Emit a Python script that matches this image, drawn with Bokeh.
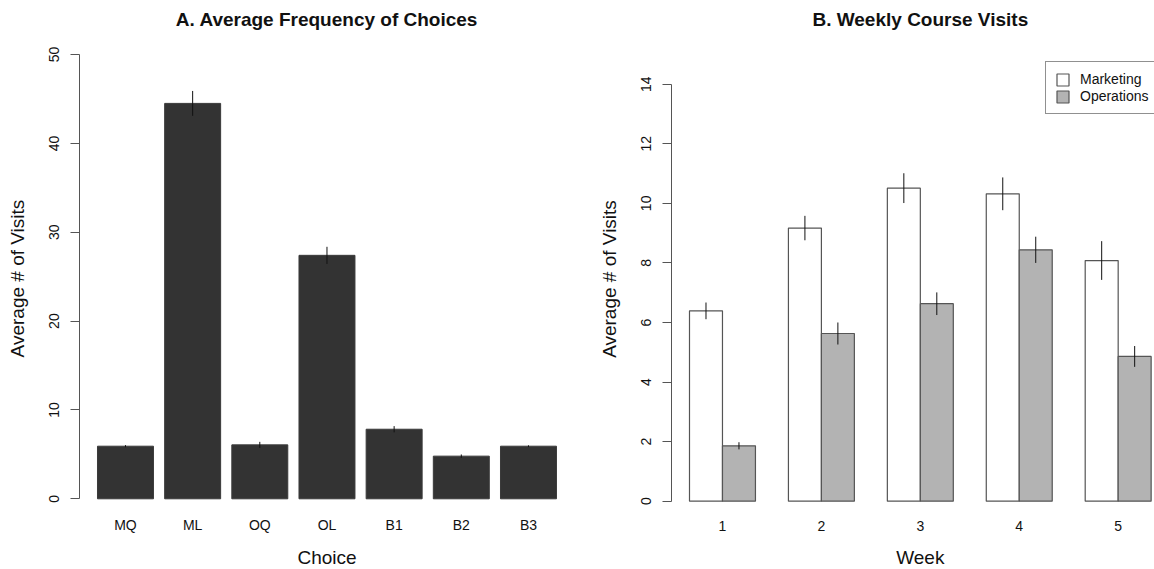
import numpy as np
from bokeh.plotting import figure
from bokeh.models import (Range1d, FixedTicker, Label, Legend, LegendItem,
                          ColumnDataSource)
from bokeh.layouts import row
from bokeh.embed import file_html
from bokeh.resources import INLINE

# ---------------- data ----------------
choices = ["MQ", "ML", "OQ", "OL", "B1", "B2", "B3"]
choice_means = [5.92, 44.5, 6.07, 27.4, 7.83, 4.8, 5.92]
choice_errs = [0.12, 1.4, 0.34, 0.96, 0.35, 0.19, 0.1]

weeks = ["1", "2", "3", "4", "5"]
marketing_means = [6.39, 9.17, 10.51, 10.32, 8.08]
marketing_errs = [0.28, 0.41, 0.5, 0.55, 0.65]
operations_means = [1.86, 5.63, 6.63, 8.44, 4.86]
operations_errs = [0.12, 0.37, 0.38, 0.44, 0.35]

yticks_a = [0, 10, 20, 30, 40, 50]
yticks_b = [0, 2, 4, 6, 8, 10, 12, 14]

FONT = "Liberation Sans"
AXIS_COL = "#555555"
TEXT_COL = "#111111"


def style_y(p, ticks, loc):
    ax = p.yaxis[0]
    ax.fixed_location = loc
    ax.ticker = FixedTicker(ticks=ticks)
    ax.bounds = (ticks[0], ticks[-1])
    ax.axis_line_color = AXIS_COL
    ax.major_tick_line_color = AXIS_COL
    ax.minor_tick_line_color = None
    ax.major_tick_out = 9
    ax.major_tick_in = 0
    ax.major_label_orientation = "vertical"
    ax.major_label_standoff = 11
    ax.major_label_text_font = FONT
    ax.major_label_text_font_size = "14px"
    ax.major_label_text_color = TEXT_COL


def style_x(p, ticks, labels, loc, standoff):
    ax = p.xaxis[0]
    ax.fixed_location = loc
    ax.ticker = FixedTicker(ticks=ticks)
    ax.major_label_overrides = {t: l for t, l in zip(ticks, labels)}
    ax.axis_line_color = None
    ax.major_tick_line_color = None
    ax.minor_tick_line_color = None
    ax.major_tick_out = 0
    ax.major_tick_in = 0
    ax.major_label_standoff = standoff
    ax.major_label_text_font = FONT
    ax.major_label_text_font_size = "14px"
    ax.major_label_text_color = TEXT_COL


def base_fig(x_range, y_range):
    p = figure(width=577, height=569, x_range=x_range, y_range=y_range,
               output_backend="svg", toolbar_location=None, min_border=0,
               min_border_left=0, min_border_right=0,
               min_border_top=0, min_border_bottom=0)
    p.outline_line_color = None
    p.xgrid.grid_line_color = None
    p.ygrid.grid_line_color = None
    p.background_fill_color = "white"
    p.border_fill_color = "white"
    return p


def text_label(p, x, y, text, size, bold=False, angle=0.0,
               baseline="alphabetic"):
    p.add_layout(Label(x=x, y=y, text=text, angle=angle, angle_units="rad",
                       text_align="center", text_baseline=baseline,
                       text_font=FONT, text_font_size=size,
                       text_font_style="bold" if bold else "normal",
                       text_color=TEXT_COL))


# ---------------- panel A ----------------
idx_a = np.arange(len(choices))
xa = [round(float(v), 6) for v in 0.7 + 1.2 * idx_a]
ca = np.array(choice_means)
ea = np.array(choice_errs)
src_a = ColumnDataSource(dict(x=xa, top=ca, lo=ca - ea, hi=ca + ea))

pa = base_fig(Range1d(-1.533, 8.776), Range1d(-7.956, 56.08))
pa.vbar(x="x", top="top", bottom=0, width=1, source=src_a,
        fill_color="#333333", line_color="#3a3a3a", line_width=1)
pa.segment(x0="x", y0="lo", x1="x", y1="hi", source=src_a,
           line_color="#111111", line_width=1)
style_y(pa, yticks_a, -0.128)
style_x(pa, xa, choices, -2.0, 0)
text_label(pa, 4.3, 53.94, "A. Average Frequency of Choices", "19px", bold=True)
text_label(pa, 4.3, -6.6, "Choice", "19px")
text_label(pa, -1.224, 24.79, "Average # of Visits", "19px",
           angle=np.pi / 2, baseline="middle")

# ---------------- panel B ----------------
idx_b = np.arange(len(weeks))
x_m = [float(v) for v in 3 * idx_b + 1.5]
x_o = [float(v) for v in 3 * idx_b + 2.5]
x_c = [float(v) for v in 3 * idx_b + 2]
mm = np.array(marketing_means)
me = np.array(marketing_errs)
om = np.array(operations_means)
oe = np.array(operations_errs)
src_m = ColumnDataSource(dict(x=x_m, top=mm, lo=mm - me, hi=mm + me))
src_o = ColumnDataSource(dict(x=x_o, top=om, lo=om - oe, hi=om + oe))

pb = base_fig(Range1d(-2.3965, 15.1016), Range1d(-2.293, 16.81))
rm = pb.vbar(x="x", top="top", bottom=0, width=1, source=src_m,
             fill_color="white", line_color="#555555", line_width=1.2)
ro = pb.vbar(x="x", top="top", bottom=0, width=1, source=src_o,
             fill_color="#b3b3b3", line_color="#555555", line_width=1.2)
pb.segment(x0="x", y0="lo", x1="x", y1="hi", source=src_m,
           line_color="#111111", line_width=1)
pb.segment(x0="x", y0="lo", x1="x", y1="hi", source=src_o,
           line_color="#111111", line_width=1)
style_y(pb, yticks_b, 0.44)
style_x(pb, x_c, weeks, -0.6, 2)

legend = Legend(items=[LegendItem(label="Marketing", renderers=[rm]),
                       LegendItem(label="Operations", renderers=[ro])],
                location=(468, 455), orientation="vertical",
                border_line_color="#222222", border_line_width=1,
                background_fill_color="white", background_fill_alpha=1,
                padding=9, spacing=1, margin=0,
                label_height=16, glyph_height=15, glyph_width=15,
                label_standoff=10, label_text_font=FONT,
                label_text_font_size="14px", label_text_color=TEXT_COL)
pb.add_layout(legend)

text_label(pb, 8.0, 16.175, "B. Weekly Course Visits", "19px", bold=True)
text_label(pb, 8.0, -1.88, "Week", "19px")
text_label(pb, -1.426, 7.46, "Average # of Visits", "19px",
           angle=np.pi / 2, baseline="middle")

layout = row(pa, pb)
open("out.html", "w").write(file_html(layout, INLINE))
